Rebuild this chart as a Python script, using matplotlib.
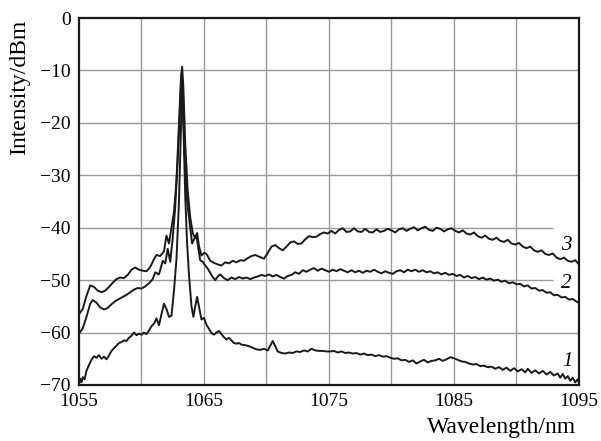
#!/usr/bin/env python3
"""Output spectra of the fibre laser at three pump levels."""

import numpy as np
import matplotlib
matplotlib.use("Agg")
import matplotlib.pyplot as plt

plt.rcParams["font.family"] = ["Liberation Serif", "DejaVu Serif"]

# curve 3 (highest pump)
wl_3 = [
    1055.0, 1055.3, 1055.6, 1055.9, 1056.2, 1056.5, 1056.8, 1057.1, 1057.4, 1057.7,
    1058.0, 1058.3, 1058.6, 1058.9, 1059.2, 1059.5, 1059.8, 1060.1, 1060.4, 1060.7,
    1061.0, 1061.2, 1061.5, 1061.8, 1062.0, 1062.2, 1062.4, 1062.6, 1062.8, 1063.0,
    1063.15, 1063.25, 1063.35, 1063.5, 1063.7, 1063.9, 1064.1, 1064.3, 1064.45, 1064.6,
    1064.8, 1065.0, 1065.2, 1065.5, 1065.8, 1066.1, 1066.4, 1066.7, 1067.0, 1067.3,
    1067.6, 1067.9, 1068.2, 1068.5, 1068.8, 1069.1, 1069.4, 1069.8, 1070.1, 1070.4,
    1070.7, 1071.0, 1071.3, 1071.6, 1071.9, 1072.2, 1072.5, 1072.8, 1073.1, 1073.4,
    1073.7, 1074.0, 1074.3, 1074.6, 1074.9, 1075.2, 1075.5, 1075.8, 1076.1, 1076.4,
    1076.7, 1077.0, 1077.3, 1077.6, 1077.9, 1078.2, 1078.5, 1078.8, 1079.1, 1079.4,
    1079.7, 1080.0, 1080.3, 1080.6, 1080.9, 1081.2, 1081.5, 1081.8, 1082.1, 1082.4,
    1082.7, 1083.0, 1083.3, 1083.6, 1083.9, 1084.2, 1084.5, 1084.8, 1085.1, 1085.4,
    1085.7, 1086.0, 1086.3, 1086.6, 1086.9, 1087.2, 1087.5, 1087.8, 1088.1, 1088.4,
    1088.7, 1089.0, 1089.3, 1089.6, 1089.9, 1090.2, 1090.5, 1090.8, 1091.1, 1091.4,
    1091.7, 1092.0, 1092.3, 1092.6, 1092.9, 1093.2, 1093.5, 1093.8, 1094.1, 1094.4,
    1094.7, 1095.0,
]
db_3 = [
    -56.5, -55.5, -53.0, -51.0, -51.3, -52.0, -52.3, -52.0, -51.3, -50.5,
    -49.8, -49.5, -49.6, -49.0, -48.0, -47.6, -48.0, -48.2, -48.3, -47.5,
    -46.0, -45.2, -45.4, -44.5, -41.5, -43.0, -40.0, -37.0, -31.0, -20.0,
    -12.0, -9.3, -13.0, -24.0, -33.0, -38.0, -41.0, -42.0, -41.0, -43.5,
    -45.3, -44.8, -45.0, -46.3, -46.7, -47.0, -47.2, -46.6, -46.8, -46.3,
    -46.6, -46.2, -46.3, -45.8, -45.4, -45.2, -45.5, -45.9, -44.8, -43.6,
    -43.3, -43.9, -44.3, -43.6, -42.8, -42.6, -43.1, -43.0, -42.2, -41.6,
    -41.8, -41.7, -41.2, -40.9, -41.1, -40.6, -41.1, -40.4, -40.1, -40.8,
    -40.7, -40.1, -40.7, -40.8, -40.2, -40.8, -40.9, -40.3, -40.8, -40.6,
    -40.2, -40.5, -40.9, -40.3, -40.1, -40.6, -40.2, -39.9, -40.5, -40.1,
    -39.8, -40.4, -40.6, -40.0, -40.2, -40.7, -40.3, -40.1, -40.6, -40.9,
    -40.5, -41.1, -41.3, -40.9, -41.6, -41.9, -41.5, -42.1, -42.3, -41.9,
    -42.5, -42.7, -42.3, -43.0, -43.2, -42.9, -43.6, -43.9, -43.6, -44.3,
    -44.6, -44.3, -45.0, -45.2, -44.9, -45.7, -46.0, -45.7, -46.3, -46.5,
    -46.2, -47.0,
]

# curve 2
wl_2 = [
    1055.0, 1055.3, 1055.6, 1055.9, 1056.1, 1056.4, 1056.7, 1057.0, 1057.3, 1057.6,
    1057.9, 1058.2, 1058.5, 1058.8, 1059.1, 1059.4, 1059.7, 1060.0, 1060.3, 1060.6,
    1060.9, 1061.1, 1061.4, 1061.7, 1061.9, 1062.1, 1062.3, 1062.5, 1062.7, 1062.9,
    1063.1, 1063.2, 1063.3, 1063.45, 1063.65, 1063.85, 1064.05, 1064.25, 1064.4, 1064.55,
    1064.7, 1064.9, 1065.1, 1065.3, 1065.5, 1065.7, 1065.9, 1066.1, 1066.3, 1066.6,
    1066.9, 1067.2, 1067.5, 1067.8, 1068.1, 1068.4, 1068.7, 1069.0, 1069.3, 1069.6,
    1069.9, 1070.2, 1070.5, 1070.8, 1071.1, 1071.4, 1071.7, 1072.0, 1072.3, 1072.6,
    1072.9, 1073.2, 1073.5, 1073.8, 1074.1, 1074.4, 1074.7, 1075.0, 1075.3, 1075.6,
    1075.9, 1076.2, 1076.5, 1076.8, 1077.1, 1077.4, 1077.7, 1078.0, 1078.3, 1078.6,
    1078.9, 1079.2, 1079.5, 1079.8, 1080.1, 1080.4, 1080.7, 1081.0, 1081.3, 1081.6,
    1081.9, 1082.2, 1082.5, 1082.8, 1083.1, 1083.4, 1083.7, 1084.0, 1084.3, 1084.6,
    1084.9, 1085.2, 1085.5, 1085.8, 1086.1, 1086.4, 1086.7, 1087.0, 1087.3, 1087.6,
    1087.9, 1088.2, 1088.5, 1088.8, 1089.1, 1089.4, 1089.7, 1090.0, 1090.3, 1090.6,
    1090.9, 1091.2, 1091.5, 1091.8, 1092.1, 1092.4, 1092.7, 1093.0, 1093.3, 1093.6,
    1093.9, 1094.2, 1094.5, 1094.8, 1095.0,
]
db_2 = [
    -60.2, -59.2, -57.0, -54.5, -53.8, -54.3, -55.2, -55.6, -55.3, -54.6,
    -54.0, -53.6, -53.2, -52.8, -52.3, -51.8, -51.5, -51.6, -51.2, -50.6,
    -49.8, -48.5, -48.9, -46.3, -46.8, -44.0, -46.5, -42.0, -36.0, -27.0,
    -16.0, -10.5, -15.0, -26.0, -35.0, -39.0, -43.0, -42.0, -41.5, -44.0,
    -46.2, -46.5, -47.2, -47.8, -48.6, -49.4, -50.0, -49.3, -48.9, -49.6,
    -50.0, -49.5, -49.8, -49.4, -49.7, -49.5, -49.8, -49.5, -49.3, -49.0,
    -49.2, -48.9, -49.3, -49.0, -49.4, -49.7, -49.2, -49.0, -48.5, -48.8,
    -48.1, -48.4, -48.0, -47.7, -48.2, -47.8, -48.1, -48.4, -48.0, -48.3,
    -47.9, -48.2, -48.5, -48.1, -48.5, -48.2, -48.6, -48.2, -48.4, -48.0,
    -48.4, -48.7, -48.3, -48.6, -48.8, -48.3, -48.1, -48.5, -48.0, -48.3,
    -48.0, -48.4, -48.1, -48.5, -48.3, -48.7, -48.5, -48.9, -48.6, -49.0,
    -48.8, -49.2, -49.0, -49.5, -49.2, -49.6, -49.4, -49.8, -49.5, -49.9,
    -49.7, -50.1, -49.9, -50.3, -50.1, -50.6, -50.4, -50.8, -50.7, -51.2,
    -51.0, -51.6, -51.5, -52.0, -51.9, -52.4, -52.3, -52.9, -52.8, -53.3,
    -53.2, -53.7, -53.6, -54.1, -54.3,
]

# curve 1 (lowest pump)
wl_1 = [
    1055.0, 1055.1, 1055.2, 1055.3, 1055.45, 1055.6, 1055.8, 1056.0, 1056.2, 1056.4,
    1056.6, 1056.8, 1057.0, 1057.2, 1057.4, 1057.6, 1057.8, 1058.0, 1058.2, 1058.4,
    1058.6, 1058.8, 1059.0, 1059.2, 1059.4, 1059.6, 1059.8, 1060.0, 1060.2, 1060.4,
    1060.6, 1060.8, 1061.0, 1061.2, 1061.4, 1061.6, 1061.8, 1062.0, 1062.2, 1062.4,
    1062.6, 1062.8, 1063.0, 1063.15, 1063.25, 1063.35, 1063.5, 1063.65, 1063.8, 1064.0,
    1064.15, 1064.3, 1064.45, 1064.6, 1064.8, 1065.0, 1065.2, 1065.4, 1065.6, 1065.8,
    1066.0, 1066.2, 1066.4, 1066.6, 1066.8, 1067.0, 1067.2, 1067.4, 1067.6, 1067.8,
    1068.0, 1068.3, 1068.6, 1068.9, 1069.2, 1069.5, 1069.8, 1070.1, 1070.3, 1070.5,
    1070.7, 1070.9, 1071.2, 1071.5, 1071.8, 1072.1, 1072.4, 1072.7, 1073.0, 1073.3,
    1073.6, 1073.9, 1074.2, 1074.5, 1074.8, 1075.1, 1075.4, 1075.7, 1076.0, 1076.3,
    1076.6, 1076.9, 1077.2, 1077.5, 1077.8, 1078.1, 1078.4, 1078.7, 1079.0, 1079.3,
    1079.6, 1079.9, 1080.2, 1080.5, 1080.8, 1081.1, 1081.4, 1081.7, 1082.0, 1082.3,
    1082.6, 1082.9, 1083.2, 1083.5, 1083.8, 1084.1, 1084.4, 1084.7, 1085.0, 1085.3,
    1085.6, 1085.9, 1086.2, 1086.5, 1086.8, 1087.1, 1087.4, 1087.7, 1088.0, 1088.3,
    1088.6, 1088.9, 1089.2, 1089.5, 1089.8, 1090.1, 1090.4, 1090.7, 1090.9, 1091.2,
    1091.5, 1091.8, 1092.1, 1092.4, 1092.7, 1093.0, 1093.3, 1093.5, 1093.7, 1093.9,
    1094.1, 1094.3, 1094.5, 1094.7, 1094.9, 1095.0,
]
db_1 = [
    -69.8, -68.8, -69.5, -68.5, -68.9, -67.3, -66.2, -65.2, -64.5, -64.8,
    -64.3, -65.0, -64.6, -65.1, -64.4, -63.5, -63.0, -62.5, -62.0, -61.8,
    -61.5, -61.6, -61.0, -60.6, -60.0, -60.5, -60.2, -60.4, -60.0, -60.3,
    -59.6, -58.8, -58.3, -57.3, -58.6, -56.5, -54.5, -55.5, -57.0, -56.8,
    -52.0, -46.0, -35.0, -22.0, -13.0, -20.0, -34.0, -43.0, -49.0, -55.0,
    -57.0, -55.0, -53.2, -55.0, -57.5, -57.2, -58.5, -59.3, -60.1, -60.4,
    -60.0, -59.7, -60.3, -60.9, -61.3, -61.0, -61.5, -62.0, -62.1, -62.0,
    -62.3, -62.4, -62.6, -62.9, -63.2, -63.3, -63.1, -63.4, -62.5, -61.6,
    -62.6, -63.6, -63.9, -64.0, -63.8, -63.9, -63.6, -63.7, -63.4, -63.6,
    -63.1, -63.4, -63.5, -63.5, -63.6, -63.6, -63.5, -63.8, -63.6, -63.9,
    -63.8, -64.0, -63.9, -64.2, -64.0, -64.3, -64.2, -64.5, -64.3, -64.6,
    -64.5, -64.8, -65.0, -64.9, -65.3, -65.2, -65.6, -65.3, -65.9, -65.5,
    -65.2, -65.7, -65.4, -65.3, -65.0, -65.4, -65.1, -64.7, -64.9, -65.2,
    -65.5, -65.6, -65.9, -66.1, -66.0, -66.4, -66.3, -66.6, -66.5, -66.9,
    -66.6, -67.1, -66.7, -67.3, -66.8, -67.4, -67.0, -67.6, -66.9, -67.7,
    -67.2, -67.8, -67.3, -68.0, -67.5, -68.2, -67.8, -68.6, -67.9, -68.8,
    -68.3, -69.2, -68.6, -69.5, -68.9, -69.6,
]

curve_labels = ["1", "2", "3"]
label_pos = [(1094.1, -65.6), (1094.0, -50.6), (1094.0, -43.3)]

x_ticks = [1055, 1065, 1075, 1085, 1095]
y_ticks = [0, -10, -20, -30, -40, -50, -60, -70]
x_grid = [1060, 1065, 1070, 1075, 1080, 1085, 1090]


def main() -> None:
    fig = plt.figure(figsize=(6.01, 4.41), dpi=100)
    ax = fig.add_axes([0.1314, 0.127, 0.832, 0.832])

    grid_kw = dict(color="#9a9a9a", lw=1.0, zorder=1)
    for xg in x_grid:
        ax.axvline(xg, **grid_kw)
    for yg in [-10, -20, -30, -60]:
        ax.axhline(yg, **grid_kw)
    # the -40 and -50 lines stop short to make room for the curve numbers
    ax.hlines([-40, -50], 1055, 1092.9, **grid_kw)

    for wl, db in [(wl_1, db_1), (wl_2, db_2), (wl_3, db_3)]:
        ax.plot(wl, db, color="#1a1a1a", lw=1.4, zorder=3)

    for lab, (lx, ly) in zip(curve_labels, label_pos):
        ax.text(lx, ly, lab, fontsize=15, style="italic", ha="center", va="center")

    ax.set_xlim(1055, 1095)
    ax.set_ylim(-70, 0)
    ax.set_xticks(x_ticks)
    ax.set_yticks(y_ticks)
    ax.tick_params(length=0, labelsize=14)
    ax.tick_params(axis="x", pad=6)
    ax.tick_params(axis="y", pad=6)
    for sp in ax.spines.values():
        sp.set_linewidth(1.6)
        sp.set_color("#1a1a1a")
        sp.set_zorder(4)

    fig.text(0.033, 0.803, "Intensity/dBm", rotation=90, fontsize=17,
             ha="center", va="center")
    fig.text(0.834, 0.03, "Wavelength/nm", fontsize=17, ha="center", va="center")

    fig.savefig("out.png", dpi=100)
    plt.close(fig)


if __name__ == "__main__":
    main()
